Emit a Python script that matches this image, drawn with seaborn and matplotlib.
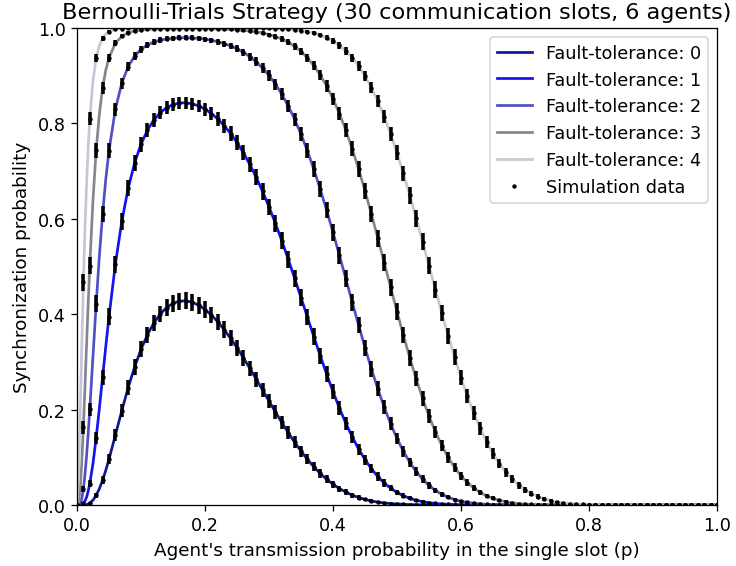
import numpy as np
import pandas as pd
import matplotlib
matplotlib.use("Agg")
import matplotlib.pyplot as plt
import seaborn as sns

# ---------------- data ----------------
# main grid: p = 0.00, 0.01, ..., 1.00 (simulated points are on this grid)
P_MAIN = np.round(np.linspace(0.0, 1.0, 101), 2)
# extra points for the steep part of the analytic curves near p = 0
P_FINE = [0.0025, 0.005, 0.0075, 0.0125, 0.015, 0.0175, 0.025, 0.035, 0.045]

FT0 = [0.0, 0.0001, 0.0040, 0.0202, 0.0519, 0.0960, 0.1464, 0.1977, 0.2460, 0.2891,
       0.3261, 0.3568, 0.3814, 0.4003, 0.4140, 0.4229, 0.4274, 0.4280, 0.4251, 0.4189,
       0.4098, 0.3981, 0.3839, 0.3675, 0.3494, 0.3297, 0.3087, 0.2867, 0.2640, 0.2410,
       0.2179, 0.1952, 0.1731, 0.1518, 0.1317, 0.1129, 0.0957, 0.0800, 0.0661, 0.0539,
       0.0433, 0.0343, 0.0271, 0.0205, 0.0157, 0.0116, 0.0084, 0.0061, 0.0043, 0.0030,
       0.0021, 0.0014, 0.0009, 0.0006, 0.0004, 0.0002, 0.0002, 0.0001, 0.0001] + [0.0] * 42
FT1 = [0.0, 0.0036, 0.0447, 0.1413, 0.2679, 0.3946, 0.5051, 0.5945, 0.6640, 0.7168,
       0.7563, 0.7857, 0.8071, 0.8225, 0.8330, 0.8395, 0.8429, 0.8433, 0.8412, 0.8367,
       0.8299, 0.8207, 0.8092, 0.7953, 0.7788, 0.7599, 0.7383, 0.7140, 0.6870, 0.6574,
       0.6252, 0.5906, 0.5540, 0.5155, 0.4756, 0.4349, 0.3939, 0.3531, 0.3131, 0.2745,
       0.2377, 0.2034, 0.1714, 0.1431, 0.1173, 0.0952, 0.0759, 0.0597, 0.0461, 0.0351,
       0.0262, 0.0193, 0.0140, 0.0099, 0.0069, 0.0047, 0.0032, 0.0022, 0.0014, 0.0008,
       0.0005, 0.0003, 0.0002, 0.0001, 0.0001] + [0.0] * 36
FT2 = [0.0, 0.0334, 0.2005, 0.4221, 0.6101, 0.7430, 0.8297, 0.8845, 0.9191, 0.9411,
       0.9553, 0.9646, 0.9707, 0.9747, 0.9773, 0.9789, 0.9797, 0.9798, 0.9793, 0.9782,
       0.9766, 0.9743, 0.9712, 0.9674, 0.9625, 0.9565, 0.9491, 0.9400, 0.9291, 0.9161,
       0.9006, 0.8824, 0.8612, 0.8367, 0.8088, 0.7773, 0.7424, 0.7039, 0.6624, 0.6182,
       0.5716, 0.5235, 0.4745, 0.4254, 0.3771, 0.3301, 0.2854, 0.2436, 0.2051, 0.1703,
       0.1394, 0.1125, 0.0893, 0.0700, 0.0539, 0.0409, 0.0305, 0.0223, 0.0161, 0.0114,
       0.0079, 0.0054, 0.0036, 0.0024, 0.0015, 0.0010, 0.0006, 0.0004, 0.0002, 0.0001,
       0.0001] + [0.0] * 30
FT3 = [0.0, 0.1631, 0.5018, 0.7441, 0.8741, 0.9376, 0.9680, 0.9827, 0.9901, 0.9939,
       0.9960, 0.9972, 0.9979, 0.9983, 0.9986, 0.9987, 0.9988, 0.9988, 0.9988, 0.9987,
       0.9985, 0.9983, 0.9980, 0.9975, 0.9969, 0.9962, 0.9951, 0.9937, 0.9919, 0.9895,
       0.9863, 0.9822, 0.9769, 0.9700, 0.9614, 0.9507, 0.9373, 0.9211, 0.9017, 0.8786,
       0.8516, 0.8207, 0.7857, 0.7468, 0.7043, 0.6585, 0.6101, 0.5597, 0.5083, 0.4566,
       0.4055, 0.3559, 0.3087, 0.2643, 0.2234, 0.1864, 0.1534, 0.1246, 0.0997, 0.0786,
       0.0611, 0.0468, 0.0353, 0.0262, 0.0191, 0.0138, 0.0097, 0.0067, 0.0046, 0.0031,
       0.0020, 0.0013, 0.0008, 0.0005, 0.0003, 0.0002, 0.0001, 0.0001] + [0.0] * 23
FT4 = [0.0, 0.4667, 0.8098, 0.9366, 0.9785, 0.9923, 0.9971, 0.9988, 0.9994, 0.9997,
       0.9998, 0.9999, 0.9999, 1.0, 1.0, 1.0, 1.0, 1.0, 1.0, 1.0,
       0.9999, 0.9999, 0.9999, 0.9999, 0.9999, 0.9998, 0.9998, 0.9997, 0.9996, 0.9994,
       0.9991, 0.9987, 0.9981, 0.9973, 0.9962, 0.9945, 0.9923, 0.9892, 0.9851, 0.9796,
       0.9725, 0.9634, 0.9519, 0.9377, 0.9203, 0.8995, 0.8749, 0.8465, 0.8142, 0.7779,
       0.7381, 0.6950, 0.6491, 0.6010, 0.5516, 0.5014, 0.4514, 0.4023, 0.3548, 0.3096,
       0.2673, 0.2281, 0.1925, 0.1606, 0.1323, 0.1077, 0.0866, 0.0688, 0.0539, 0.0417,
       0.0318, 0.0239, 0.0177, 0.0129, 0.0092, 0.0065, 0.0045, 0.0031, 0.0020, 0.0013,
       0.0008, 0.0005, 0.0003, 0.0002, 0.0001, 0.0001] + [0.0] * 15

FT0_FINE = [0.0, 0.0, 0.0, 0.0004, 0.0010, 0.0022, 0.0102, 0.0342, 0.0727]
FT1_FINE = [0.0, 0.0002, 0.0010, 0.0086, 0.0164, 0.0291, 0.0871, 0.2029, 0.3326]
FT2_FINE = [0.0003, 0.0033, 0.0134, 0.0641, 0.1031, 0.1498, 0.3118, 0.5229, 0.6832]
FT3_FINE = [0.0060, 0.0348, 0.0894, 0.2485, 0.3370, 0.4225, 0.6393, 0.8203, 0.9117]
FT4_FINE = [0.0619, 0.1920, 0.3345, 0.5801, 0.6738, 0.7500, 0.8901, 0.9633, 0.9873]

LABELS = ["Fault-tolerance: 0", "Fault-tolerance: 1", "Fault-tolerance: 2",
          "Fault-tolerance: 3", "Fault-tolerance: 4"]
COLORS = ["#0a1a96", "#1414f0", "#5050c4", "#85858f", "#c6c6d6"]
N_RUNS = 3000  # simulation runs per point (for 95% binomial error bars)

MAIN = [FT0, FT1, FT2, FT3, FT4]
FINE = [FT0_FINE, FT1_FINE, FT2_FINE, FT3_FINE, FT4_FINE]

# ---------------- figure ----------------
plt.rcParams["font.size"] = 11
fig, ax = plt.subplots(figsize=(6.4, 4.93), dpi=115)
fig.subplots_adjust(left=0.1046, right=0.9742, top=0.9489, bottom=0.1076)

for main, fine, lab, col in zip(MAIN, FINE, LABELS, COLORS):
    df = pd.DataFrame({"p": list(P_MAIN) + P_FINE, "v": list(main) + fine})
    df = df.sort_values("p")
    sns.lineplot(data=df, x="p", y="v", color=col, label=lab, ax=ax,
                 linewidth=1.7, errorbar=None, zorder=2)

sim = pd.DataFrame({
    "p": np.concatenate([P_MAIN] * len(MAIN)),
    "v": np.concatenate([np.asarray(m) for m in MAIN]),
})
sim["err"] = 1.96 * np.sqrt(sim["v"] * (1 - sim["v"]) / N_RUNS)
ax.errorbar(sim["p"], sim["v"], yerr=sim["err"], fmt="none", ecolor="black",
            elinewidth=2.2, capsize=0, zorder=3)
ax.plot(sim["p"], sim["v"], ".", color="black", markersize=3.5, zorder=4,
        label="Simulation data")

ax.set_xlim(0, 1)
ax.set_ylim(0, 1)
ax.set_xticks([0.0, 0.2, 0.4, 0.6, 0.8, 1.0])
ax.set_yticks([0.0, 0.2, 0.4, 0.6, 0.8, 1.0])
ax.tick_params(labelsize=11)
ax.set_xlabel("Agent's transmission probability in the single slot (p)", fontsize=11.5)
ax.set_ylabel("Synchronization probability", fontsize=11.5)
ax.set_title("Bernoulli-Trials Strategy (30 communication slots, 6 agents)", fontsize=14)
ax.legend(loc="upper right", fontsize=11)

fig.savefig("out.png", dpi=115)
